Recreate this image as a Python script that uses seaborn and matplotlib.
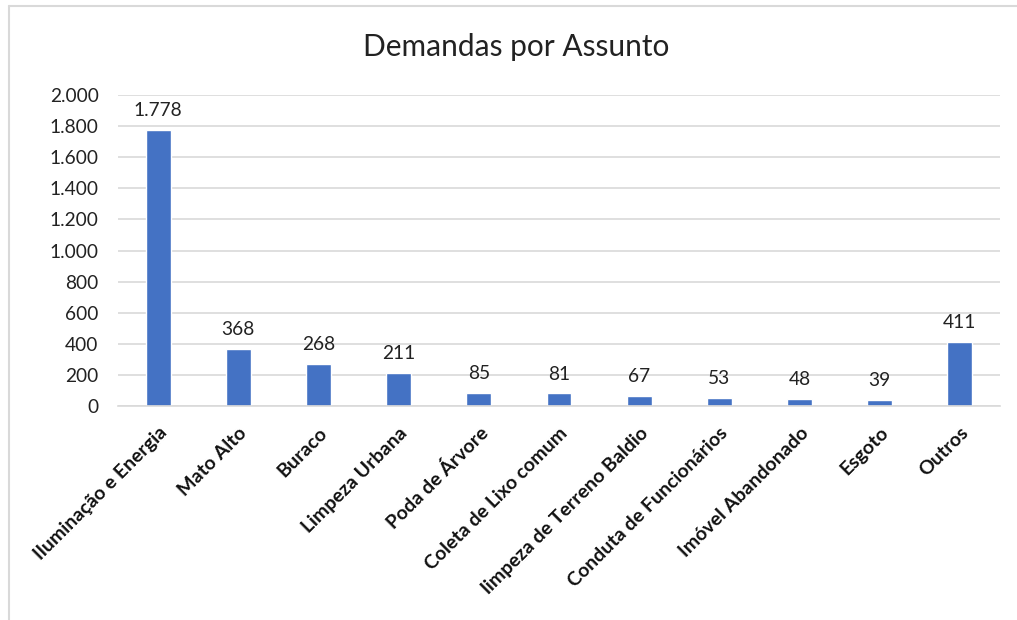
import numpy as np
import seaborn as sns
import matplotlib.pyplot as plt
from matplotlib.lines import Line2D
from matplotlib.ticker import FuncFormatter


categories = ['Iluminação e Energia', 'Mato Alto', 'Buraco', 'Limpeza Urbana',
              'Poda de Árvore', 'Coleta de Lixo comum', 'limpeza de Terreno Baldio',
              'Conduta de Funcionários', 'Imóvel Abandonado', 'Esgoto', 'Outros']
demandas = [1778, 368, 268, 211, 85, 81, 67, 53, 48, 39, 411]
y_ticks = [0, 200, 400, 600, 800, 1000, 1200, 1400, 1600, 1800, 2000]


def br_number(v):
    return '{:,.0f}'.format(v).replace(',', '.')


def main():
    sns.set_style('white')
    plt.rcParams['font.family'] = ['Lato', 'DejaVu Sans']

    fig = plt.figure(figsize=(10.17, 6.2), dpi=100)
    ax = fig.add_axes([118 / 1017, 1 - 406 / 620, (1000 - 118) / 1017, (406 - 95) / 620])

    sns.barplot(x=categories, y=demandas, color='#4472C4', saturation=1,
                width=0.31, ax=ax)

    for i, v in enumerate(demandas):
        ax.text(i, v + 70, br_number(v), ha='center', va='bottom',
                fontsize=13.8, color='#222222')

    ax.set_ylim(0, 2000)
    ax.set_xlim(-0.5, len(categories) - 0.5)
    ax.set_yticks(y_ticks)
    ax.yaxis.set_major_formatter(FuncFormatter(lambda v, p: br_number(v)))
    ax.grid(axis='y', color='#d9d9d9', linewidth=1.2)
    ax.set_axisbelow(True)
    for s in ['top', 'right', 'left']:
        ax.spines[s].set_visible(False)
    ax.spines['bottom'].set_color('#d9d9d9')
    ax.spines['bottom'].set_linewidth(1.2)
    ax.tick_params(axis='y', labelsize=13.8, pad=14, length=0, labelcolor='#222222')
    ax.tick_params(axis='x', length=0, pad=13)
    ax.set_xticks(range(len(categories)))
    ax.set_xticklabels(categories, rotation=45, ha='right', rotation_mode='anchor',
                       fontsize=14, fontweight='bold', color='#111111')

    fig.text(516 / 1017, 1 - 47 / 620, 'Demandas por Assunto', ha='center',
             va='center', fontsize=21.5, color='#222222')

    # frame of the chart area, only left and top edges show
    fig.add_artist(Line2D([8.5 / 1017, 8.5 / 1017], [0, 1 - 6 / 620],
                          transform=fig.transFigure, color='#d9d9d9', linewidth=1.5))
    fig.add_artist(Line2D([8.5 / 1017, 1], [1 - 6 / 620, 1 - 6 / 620],
                          transform=fig.transFigure, color='#d9d9d9', linewidth=1.5))

    plt.savefig('out.png', dpi=100)


if __name__ == '__main__':
    main()
